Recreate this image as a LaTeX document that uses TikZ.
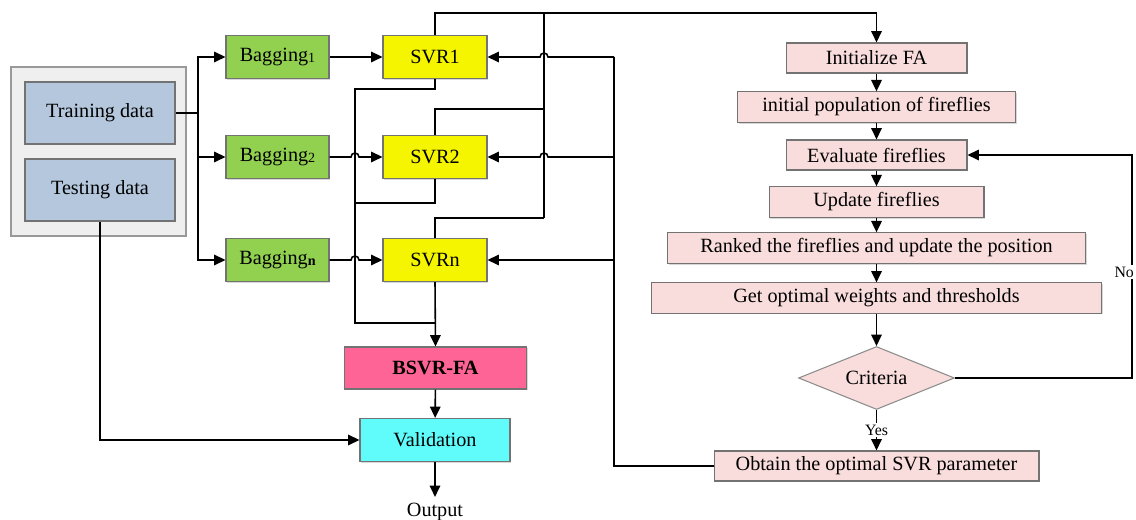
\documentclass[tikz,border=0pt]{standalone}
\usepackage{fontspec}
\setmainfont{Liberation Serif}
\usetikzlibrary{arrows.meta,shapes.geometric,shadows}

\definecolor{bgGrey}{HTML}{EFEFEF}
\definecolor{dataBlue}{HTML}{B4C7DC}
\definecolor{bagGreen}{HTML}{92D050}
\definecolor{svrYellow}{HTML}{F5F500}
\definecolor{bsvrPink}{HTML}{FF6497}
\definecolor{valCyan}{HTML}{60FCFC}
\definecolor{faPink}{HTML}{F9DCDC}

\begin{document}
\begin{tikzpicture}[x=0.02cm,y=0.02cm,
    every node/.style={font=\fontsize{11.5}{13}\selectfont},
    box/.style={draw=black!55,line width=0.6pt,minimum height=0.86cm,
      drop shadow={shadow xshift=0.8pt,shadow yshift=-0.8pt,fill=black!30}},
    fabox/.style={box,fill=faPink,minimum height=0.6cm},
    wire/.style={line width=0.9pt},
    arr/.style={wire,-{Triangle[length=6.5pt,width=6pt]}}]

    \useasboundingbox (0,0) rectangle (1136,520);

    %==================== Data and bagging ====================
    \node[box,fill=bgGrey,draw=black!40,minimum width=3.5cm,minimum height=3.38cm] (data) at (98.5,368.5) {};
    \node[box,fill=dataBlue,minimum width=3cm,minimum height=1.24cm] (train) at (100,407) {Training data};
    \node[box,fill=dataBlue,minimum width=3cm,minimum height=1.24cm] (test) at (100,330) {Testing data};

    % Bagging sets and their SVR models
    \foreach \i/\y/\s in {1/463/1,2/363/2,n/260/\textbf{n}} {
      \node[box,fill=bagGreen,minimum width=2.06cm] (bag\i) at (277.5,\y)
        {Bagging\raisebox{-0.6pt}{\fontsize{8}{8}\selectfont\s}};
      \node[box,fill=svrYellow,minimum width=2.08cm] (svr\i) at (435,\y) {SVR\i};
    }

    \node[box,fill=bsvrPink,minimum width=3.64cm,minimum height=0.84cm,
      font=\fontsize{11.5}{13}\selectfont\bfseries] (bsvr) at (435.5,152) {BSVR-FA};
    \node[box,fill=valCyan,minimum width=3cm] (valid) at (435,80) {Validation};
    \node (out) at (435,8) {Output};

    %==================== FA optimisation ====================
    \node[fabox,minimum width=3.62cm] (init) at (876.5,462) {Initialize FA};
    \node[fabox,minimum width=5.56cm] (pop) at (876.5,413) {initial population of fireflies};
    \node[fabox,minimum width=3.62cm] (eval) at (876.5,365) {Evaluate fireflies};
    \node[fabox,minimum width=4.3cm] (upd) at (876.5,318) {Update fireflies};
    \node[fabox,minimum width=8.36cm] (rank) at (876.5,272) {Ranked the fireflies and update the position};
    \node[fabox,minimum width=9.02cm] (best) at (876.5,222) {Get optimal weights and thresholds};
    \node[diamond,draw=black!45,fill=faPink,line width=0.6pt,minimum width=3.12cm,
      minimum height=1.26cm,inner sep=0pt,aspect=2.5] (crit) at (876.5,142) {Criteria};
    \node[fabox,minimum width=6.5cm] (obtain) at (876.5,54) {Obtain the optimal SVR parameter};

    % helper points on the long routes
    \coordinate (tj) at (198,407);
    \coordinate (topr) at (876.5,507);
    \coordinate (feed) at (614,463);
    \coordinate (collect) at (355,197);

    %==================== Connectors ====================
    % Training data to the bagging sets
    \draw[wire] (train.east) -- (tj);
    \foreach \i in {1,2,n} {
      \draw[arr] (tj) |- (bag\i.west);
    }
    \draw[arr] (bag1) -- (svr1);
    \draw[arr] (bag2.east) -- (351,363) arc (180:0:4) -- (svr2.west);
    \draw[arr] (bagn.east) -- (351,260) arc (180:0:4) -- (svrn.west);

    % SVR outputs gathered into BSVR-FA
    \draw[wire] (svr1.south) -- (435,431) -- (355,431) -- (collect) -- (435,197);
    \draw[wire] (svr2.south) -- (435,317) -- (355,317);
    \draw[arr] (svrn.south) -- (bsvr.north);
    \draw[arr] (bsvr) -- (valid);
    \draw[arr] (valid) -- (out);
    \draw[arr] (test.south) |- (valid.west);

    % SVR models to the firefly algorithm
    \draw[arr] (svr1.north) |- (topr) -- (init.north);
    \draw[wire] (544,507) -- (544,302);
    \draw[wire] (544,411) -| (svr2.north);
    \draw[wire] (544,302) -| (svrn.north);

    % Optimal parameter fed back to every SVR
    \draw[wire] (obtain.west) -| (feed);
    \draw[arr] (feed) -- (548,463) arc (0:180:4) -- (svr1.east);
    \draw[arr] (614,363) -- (548,363) arc (0:180:4) -- (svr2.east);
    \draw[arr] (614,260) -- (svrn.east);

    % Firefly steps
    \foreach \a/\b in {init/pop,pop/eval,eval/upd,upd/rank,rank/best,best/crit} {
      \draw[arr] (\a) -- (\b);
    }
    \draw[arr] (crit) -- node[fill=white,inner sep=1pt,font=\fontsize{9}{10}\selectfont] {Yes} (obtain);
    \draw[arr] (crit.east) -- (1132,142) |- (eval.east);
    \node[anchor=east,fill=white,inner sep=1pt,font=\fontsize{9}{10}\selectfont] (no) at (1136,248) {No};

  \end{tikzpicture}
\end{document}
